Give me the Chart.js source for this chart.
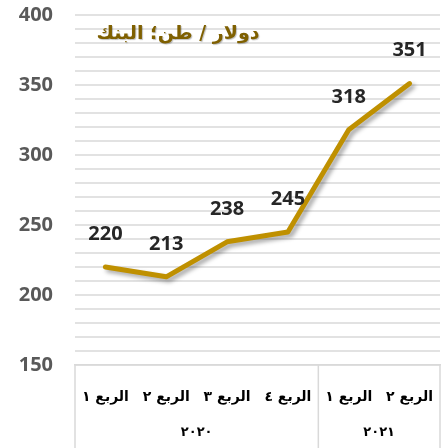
<!DOCTYPE html>
<html>
<head>
<meta charset="utf-8">
<script src="https://cdn.jsdelivr.net/npm/chart.js@4"></script>
<style>
    html, body { margin: 0; padding: 0; background: #ffffff; }
    #wrap { width: 444px; height: 448px; }
</style>
</head>
<body>
<div id="wrap"><canvas id="priceChart" width="444" height="448"></canvas></div>
<script>
const quarters = ['الربع ١', 'الربع ٢', 'الربع ٣', 'الربع ٤', 'الربع ١', 'الربع ٢'];
const years = ['٢٠٢٠', '٢٠٢١'];
const yearSpans = [4, 2];
const prices = [220, 213, 238, 245, 318, 351];
const yMin = 150, yMax = 400, yStep = 10, yLabelStep = 50;
const chartTitle = 'دولار / طن؛ البنك';

const lineColor = '#BF9000';
const arabicFont = '"DejaVu Sans", sans-serif';
const numberFont = '"Open Sans", "Liberation Sans", sans-serif';

// shadow under the line
const lineShadow = {
    id: 'lineShadow',
    beforeDatasetsDraw(chart) {
        const ctx = chart.ctx;
        ctx.save();
        ctx.shadowColor = 'rgba(0,0,0,0.35)';
        ctx.shadowBlur = 4;
        ctx.shadowOffsetX = 3;
        ctx.shadowOffsetY = 3;
    },
    afterDatasetsDraw(chart) {
        chart.ctx.restore();
    }
};

// values over points, title, year row and the box lines of the category axis
const extras = {
    id: 'extras',
    afterDraw(chart) {
        const ctx = chart.ctx;
        const area = chart.chartArea;
        const x = chart.scales.x;
        const meta = chart.getDatasetMeta(0);

        ctx.save();
        ctx.font = 'bold 20px ' + numberFont;
        ctx.fillStyle = '#262626';
        ctx.textAlign = 'center';
        ctx.textBaseline = 'middle';
        meta.data.forEach((pt, i) => {
            ctx.fillText(prices[i], pt.x, pt.y - 33);
        });

        ctx.font = 'bold 19px ' + arabicFont;
        ctx.fillStyle = '#7F6000';
        ctx.shadowColor = 'rgba(0,0,0,0.25)';
        ctx.shadowOffsetX = 1;
        ctx.shadowOffsetY = 1;
        ctx.shadowBlur = 1;
        ctx.fillText(chartTitle, 178, 34);
        ctx.restore();

        ctx.save();
        const half = (x.getPixelForValue(1) - x.getPixelForValue(0)) / 2;
        ctx.strokeStyle = '#d9d9d9';
        ctx.lineWidth = 1.5;
        let start = 0;
        const edges = [x.getPixelForValue(0) - half];
        yearSpans.forEach((n, g) => {
            const left = x.getPixelForValue(start) - half;
            const right = x.getPixelForValue(start + n - 1) + half;
            edges.push(right);
            ctx.font = 'bold 13px ' + arabicFont;
            ctx.fillStyle = '#000000';
            ctx.textAlign = 'center';
            ctx.textBaseline = 'middle';
            ctx.fillText(years[g], (left + right) / 2, 433);
            start += n;
        });
        edges.forEach(ex => {
            ctx.beginPath();
            ctx.moveTo(ex, area.bottom);
            ctx.lineTo(ex, chart.height);
            ctx.stroke();
        });
        ctx.restore();
    }
};

new Chart(document.getElementById('priceChart'), {
    type: 'line',
    data: {
        labels: quarters,
        datasets: [{
            data: prices,
            borderColor: lineColor,
            borderWidth: 5,
            borderCapStyle: 'round',
            borderJoinStyle: 'round',
            pointRadius: 0,
            tension: 0,
            fill: false
        }]
    },
    options: {
        responsive: false,
        animation: false,
        layout: { padding: { top: 0, right: 4, left: 0, bottom: 0 } },
        plugins: {
            legend: { display: false },
            tooltip: { enabled: false },
            title: { display: false }
        },
        scales: {
            x: {
                offset: true,
                grid: { display: false, drawTicks: false },
                border: { display: true, color: '#d9d9d9', width: 1.5 },
                ticks: {
                    autoSkip: false,
                    maxRotation: 0,
                    padding: 24,
                    color: '#000000',
                    font: { family: arabicFont, weight: 'bold', size: 14 }
                },
                afterFit(scale) {
                    scale.height = 83;
                    scale.paddingLeft = 0;
                    scale.paddingRight = 0;
                }
            },
            y: {
                min: yMin,
                max: yMax,
                grid: { color: '#e2e2e2', lineWidth: 2, drawTicks: false },
                border: { display: false },
                ticks: {
                    stepSize: yStep,
                    autoSkip: false,
                    padding: 22,
                    color: '#595959',
                    font: { family: numberFont, weight: 'bold', size: 20 },
                    callback: v => (v % yLabelStep === 0 ? v : '')
                },
                afterFit(scale) {
                    scale.width = 75;
                    scale.paddingTop = 15;
                    scale.paddingBottom = 0;
                }
            }
        }
    },
    plugins: [lineShadow, extras]
});
</script>
</body>
</html>
